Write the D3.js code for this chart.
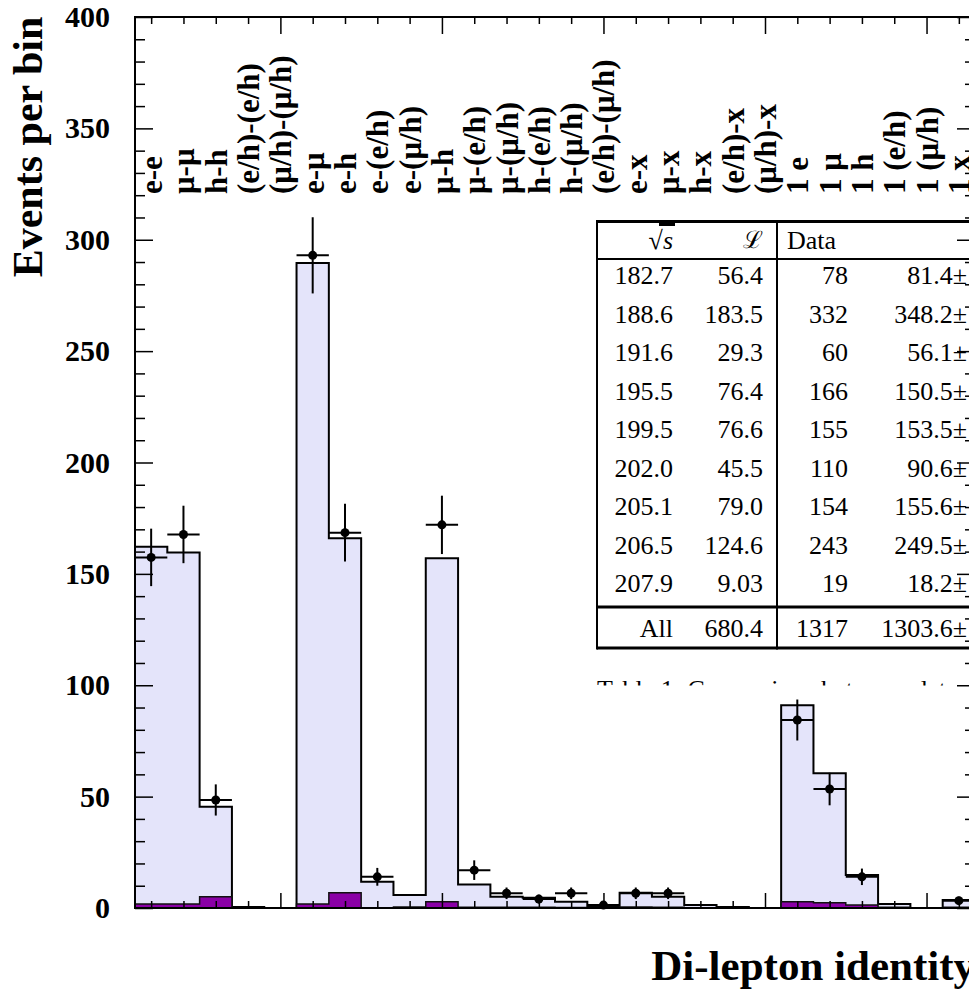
<!DOCTYPE html>
<html>
<head>
<meta charset="utf-8">
<script src="https://cdn.jsdelivr.net/npm/d3@7"></script>
<style>
  body { margin: 0; background: #fff; }
  svg { display: block; }
</style>
</head>
<body>
<script>
// Bin labels (top of the plot), one per di-lepton identity bin
const binLabels = [
  "e-e", "μ-μ", "h-h", "(e/h)-(e/h)", "(μ/h)-(μ/h)",
  "e-μ", "e-h", "e-(e/h)", "e-(μ/h)", "μ-h",
  "μ-(e/h)", "μ-(μ/h)", "h-(e/h)", "h-(μ/h)", "(e/h)-(μ/h)",
  "e-x", "μ-x", "h-x", "(e/h)-x", "(μ/h)-x",
  "1 e", "1 μ", "1 h", "1 (e/h)", "1 (μ/h)", "1 x"
];

// Total expectation per bin (light histogram)
const mcValues = [
  162.2, 159.6, 45.5, 0.5, 0,
  289.6, 166.0, 11.8, 5.8, 157.0,
  10.6, 5.1, 4.6, 2.8, 0.9,
  6.9, 5.1, 1.3, 0.5, 0,
  91.0, 60.5, 14.8, 1.8, 0, 3.6
];

// Background component per bin (dark histogram)
const bkgValues = [
  1.8, 1.8, 5.1, 0, 0,
  1.8, 6.9, 0, 0.5, 2.8,
  0.3, 0.3, 0.3, 0.2, 0.2,
  0.5, 0.3, 0, 0, 0,
  2.8, 2.4, 1.3, 0.3, 0, 0.3
];

// Observed data (null = no point) and errors
const dataValues = [
  157.4, 167.7, 48.5, null, null,
  293.0, 168.5, 14.0, null, 172.0,
  17.0, 6.6, 4.0, 6.6, 1.3,
  6.6, 6.6, null, null, null,
  84.4, 53.4, 14.0, null, null, 3.3
];
const dataErrors = [
  12.9, 12.9, 7.0, 0, 0,
  17.1, 13.0, 4.0, 0, 13.1,
  4.4, 2.6, 2.0, 2.6, 1.5,
  2.6, 2.6, 0, 0, 0,
  9.2, 7.3, 3.7, 0, 0, 1.8
];

// Table in the background
const tableSqrtS = ["182.7", "188.6", "191.6", "195.5", "199.5", "202.0", "205.1", "206.5", "207.9"];
const tableLumi = ["56.4", "183.5", "29.3", "76.4", "76.6", "45.5", "79.0", "124.6", "9.03"];
const tableData = ["78", "332", "60", "166", "155", "110", "154", "243", "19"];
const tableMC = ["81.4±", "348.2±", "56.1±", "150.5±", "153.5±", "90.6±", "155.6±", "249.5±", "18.2±"];
const tableTotals = ["All", "680.4", "1317", "1303.6±"];

const yTicks = [0, 50, 100, 150, 200, 250, 300, 350, 400];

// Dimensions
const width = 969, height = 990;
const margin = {left: 135, right: 975, top: 17, bottom: 908};
const serif = "'Liberation Serif', 'Times New Roman', serif";

const svg = d3.select("body").append("svg")
  .attr("width", width)
  .attr("height", height);

// Scales
const x = d3.scaleLinear().domain([0.5, 26.5]).range([margin.left, margin.right]);
const y = d3.scaleLinear().domain([0, 400]).range([margin.bottom, margin.top]);

// ---- Table (drawn first, behind the plot) ----
const tbl = svg.append("g");
const rowY = i => 275 + i * 38.5;
const tLeft = 597, tDiv = 777;

tbl.append("line").attr("x1", tLeft).attr("x2", width).attr("y1", 221.5).attr("y2", 221.5)
  .attr("stroke", "#000").attr("stroke-width", 3);
tbl.append("line").attr("x1", tLeft).attr("x2", width).attr("y1", 259).attr("y2", 259)
  .attr("stroke", "#000").attr("stroke-width", 2);
tbl.append("line").attr("x1", tLeft).attr("x2", width).attr("y1", 607).attr("y2", 607)
  .attr("stroke", "#000").attr("stroke-width", 3);
tbl.append("line").attr("x1", tLeft).attr("x2", width).attr("y1", 648).attr("y2", 648)
  .attr("stroke", "#000").attr("stroke-width", 3);
tbl.append("line").attr("x1", tLeft).attr("x2", tLeft).attr("y1", 220).attr("y2", 649.5)
  .attr("stroke", "#000").attr("stroke-width", 2);
tbl.append("line").attr("x1", tDiv).attr("x2", tDiv).attr("y1", 220).attr("y2", 649.5)
  .attr("stroke", "#000").attr("stroke-width", 2);

// header
const hdr = tbl.append("text")
  .attr("x", 673).attr("y", 240).attr("dy", "0.35em")
  .attr("text-anchor", "end")
  .style("font-family", serif).style("font-size", "26px");
hdr.append("tspan").text("√");
hdr.append("tspan").style("font-style", "italic").text("s");
tbl.append("rect").attr("x", 659).attr("y", 220).attr("width", 16).attr("height", 6).attr("fill", "#000");

tbl.append("text")
  .attr("x", 763).attr("y", 240).attr("dy", "0.35em")
  .attr("text-anchor", "end")
  .style("font-family", "'DejaVu Serif', serif").style("font-size", "24px")
  .text("ℒ");
tbl.append("text")
  .attr("x", 787).attr("y", 240).attr("dy", "0.35em")
  .style("font-family", serif).style("font-size", "26px")
  .text("Data");

// rows
const cols = [
  {vals: tableSqrtS, x: 673},
  {vals: tableLumi, x: 763},
  {vals: tableData, x: 848},
  {vals: tableMC, x: 967}
];
cols.forEach(function(c) {
  tbl.selectAll(null)
    .data(c.vals)
    .enter().append("text")
    .attr("x", c.x)
    .attr("y", (d, i) => rowY(i))
    .attr("dy", "0.35em")
    .attr("text-anchor", "end")
    .style("font-family", serif).style("font-size", "26px")
    .text(d => d);
});
tbl.selectAll(null)
  .data(tableTotals)
  .enter().append("text")
  .attr("x", (d, i) => cols[i].x)
  .attr("y", 628)
  .attr("dy", "0.35em")
  .attr("text-anchor", "end")
  .style("font-family", serif).style("font-size", "26px")
  .text(d => d);

// caption, mostly hidden
svg.append("clipPath").attr("id", "capclip")
  .append("rect").attr("x", 590).attr("y", 660).attr("width", 400).attr("height", 25.5);
svg.append("text")
  .attr("clip-path", "url(#capclip)")
  .attr("x", 597).attr("y", 698)
  .style("font-family", serif).style("font-size", "26px")
  .text("Table 1:  Comparison between data");

// ---- Histograms ----
const steps = vals => vals.map((v, i) => ({e: i + 0.5, v: v}))
  .concat([{e: vals.length + 0.5, v: vals[vals.length - 1]}]);

const area = d3.area()
  .curve(d3.curveStepAfter)
  .x(d => x(d.e))
  .y0(y(0))
  .y1(d => y(d.v));
const line = d3.line()
  .curve(d3.curveStepAfter)
  .x(d => x(d.e))
  .y(d => y(d.v));

svg.append("path")
  .datum(steps(mcValues))
  .attr("d", area)
  .attr("fill", "#e4e4fa");
svg.append("path")
  .datum(steps(mcValues))
  .attr("d", line)
  .attr("fill", "none")
  .attr("stroke", "#000")
  .attr("stroke-width", 2);

svg.append("path")
  .datum(steps(bkgValues))
  .attr("d", area)
  .attr("fill", "#8a00a6");
svg.append("path")
  .datum(steps(bkgValues))
  .attr("d", line)
  .attr("fill", "none")
  .attr("stroke", "#111")
  .attr("stroke-width", 1.5);

// ---- Data points with error bars ----
const pts = dataValues.map((v, i) => ({i: i + 1, v: v, err: dataErrors[i]})).filter(d => d.v !== null);

svg.selectAll(".xerr")
  .data(pts)
  .enter().append("line")
  .attr("x1", d => x(d.i - 0.5))
  .attr("x2", d => x(d.i + 0.5))
  .attr("y1", d => y(d.v))
  .attr("y2", d => y(d.v))
  .attr("stroke", "#000").attr("stroke-width", 2);

svg.selectAll(".yerr")
  .data(pts)
  .enter().append("line")
  .attr("x1", d => x(d.i))
  .attr("x2", d => x(d.i))
  .attr("y1", d => y(Math.max(0, d.v - d.err)))
  .attr("y2", d => y(d.v + d.err))
  .attr("stroke", "#000").attr("stroke-width", 2);

svg.selectAll(".pt")
  .data(pts)
  .enter().append("circle")
  .attr("cx", d => x(d.i))
  .attr("cy", d => y(d.v))
  .attr("r", 4.5)
  .attr("fill", "#000");

// ---- Axes ----
const minorY = d3.range(0, 401, 10).filter(v => v % 50 !== 0);
const minorX = d3.range(1, 27).filter(v => v % 5 !== 0);
const majorX = [5, 10, 15, 20, 25];

function styleAxis(g) {
  g.select(".domain").remove();
  g.selectAll("line").attr("stroke", "#000").attr("stroke-width", 1.5);
}

svg.append("g")
  .attr("transform", "translate(" + margin.left + ",0)")
  .call(d3.axisLeft(y).tickValues(yTicks).tickSize(-18).tickPadding(25).tickSizeOuter(0))
  .call(styleAxis)
  .call(g => g.selectAll("text")
    .attr("fill", "#000")
    .style("font-family", serif)
    .style("font-weight", "bold")
    .style("font-size", "30px"));
svg.append("g")
  .attr("transform", "translate(" + margin.left + ",0)")
  .call(d3.axisLeft(y).tickValues(minorY).tickSize(-10).tickFormat(""))
  .call(styleAxis);

svg.append("g")
  .attr("transform", "translate(" + margin.right + ",0)")
  .call(d3.axisRight(y).tickValues(yTicks).tickSize(-18).tickFormat(""))
  .call(styleAxis);
svg.append("g")
  .attr("transform", "translate(" + margin.right + ",0)")
  .call(d3.axisRight(y).tickValues(minorY).tickSize(-10).tickFormat(""))
  .call(styleAxis);

svg.append("g")
  .attr("transform", "translate(0," + margin.top + ")")
  .call(d3.axisTop(x).tickValues(majorX).tickSize(-17).tickFormat(""))
  .call(styleAxis);
svg.append("g")
  .attr("transform", "translate(0," + margin.top + ")")
  .call(d3.axisTop(x).tickValues(minorX).tickSize(-7).tickFormat(""))
  .call(styleAxis);

svg.append("g")
  .attr("transform", "translate(0," + margin.bottom + ")")
  .call(d3.axisBottom(x).tickValues(majorX).tickSize(-15).tickFormat(""))
  .call(styleAxis);
svg.append("g")
  .attr("transform", "translate(0," + margin.bottom + ")")
  .call(d3.axisBottom(x).tickValues(minorX).tickSize(-7).tickFormat(""))
  .call(styleAxis);

// frame
svg.append("rect")
  .attr("x", margin.left).attr("y", margin.top)
  .attr("width", margin.right - margin.left).attr("height", margin.bottom - margin.top)
  .attr("fill", "none")
  .attr("stroke", "#000")
  .attr("stroke-width", 2);

// ---- Bin labels, rotated ----
svg.selectAll(".binlabel")
  .data(binLabels)
  .enter().append("text")
  .attr("class", "binlabel")
  .attr("transform", (d, i) => "translate(" + (x(i + 1) + 11) + ",194) rotate(-90)")
  .style("font-family", serif)
  .style("font-weight", "bold")
  .style("font-size", "31px")
  .text(d => d);

// ---- Axis titles ----
svg.append("text")
  .attr("transform", "translate(42,147) rotate(-90)")
  .attr("text-anchor", "middle")
  .style("font-family", serif)
  .style("font-weight", "bold")
  .style("font-size", "42px")
  .text("Events per bin");

svg.append("text")
  .attr("x", margin.right)
  .attr("y", 980)
  .attr("text-anchor", "end")
  .style("font-family", serif)
  .style("font-weight", "bold")
  .style("font-size", "43px")
  .text("Di-lepton identity");
</script>
</body>
</html>
